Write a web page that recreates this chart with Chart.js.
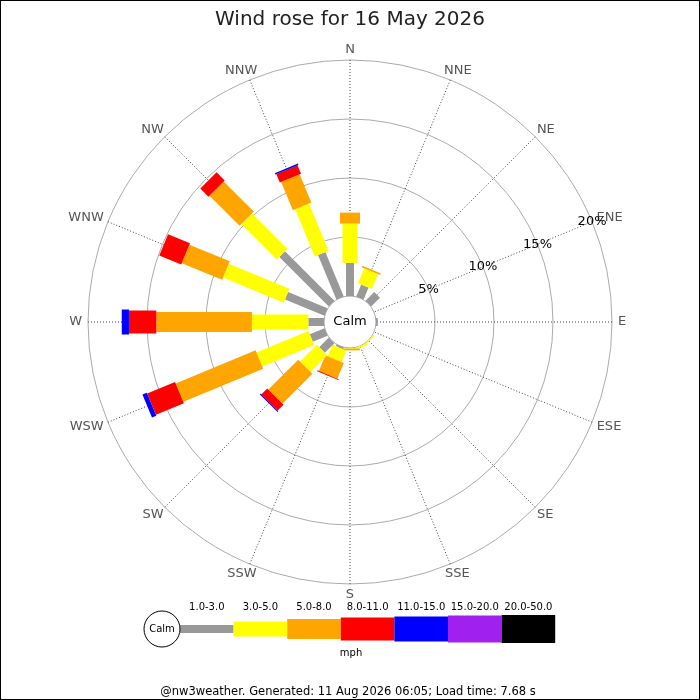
<!DOCTYPE html>
<html><head><meta charset="utf-8">
<style>html,body{margin:0;padding:0;background:#fff}canvas{display:block}</style>
<script src="https://cdn.jsdelivr.net/npm/chart.js@4"></script>
</head><body>
<canvas id="c" width="700" height="700"></canvas>
<script>
const titleText = 'Wind rose for 16 May 2026';
const footerText = '@nw3weather. Generated: 11 Aug 2026 06:05; Load time: 7.68 s';
const calmText = 'Calm';
const unitText = 'mph';
const directions = ['N','NNE','NE','ENE','E','ESE','SE','SSE','S','SSW','SW','WSW','W','WNW','NW','NNW'];
const bandLabels = ['1.0-3.0','3.0-5.0','5.0-8.0','8.0-11.0','11.0-15.0','15.0-20.0','20.0-50.0'];
// percentage of time per direction, for each speed band
const gray   = [2.81,1.10,1.05,0,0.15,0,0,0,0,0.15,1.15,1.35,1.33,3.62,5.93,4.08];
const yellow = [3.33,1.37,0,0,0,0,0.10,0.15,0.05,1.05,2.01,4.76,4.78,5.56,4.25,4.32];
const orange = [0.93,0.13,0,0,0,0,0,0,0.15,1.44,3.58,7.33,8.10,3.70,3.61,2.60];
const red    = [0,0,0,0,0,0,0,0,0,0.08,0.70,2.56,2.32,2.01,0.97,0.77];
const blue   = [0,0,0,0,0,0,0,0,0,0,0.10,0.40,0.61,0,0,0.12];
const purple = [0,0,0,0,0,0,0,0,0,0,0,0,0,0,0,0];
const black  = [0,0,0,0,0,0,0,0,0,0,0,0,0,0,0,0];
const tickValues = [5,10,15,20];
const tickLabels = ['5%','10%','15%','20%'];

const bandColors = ['#999999','#ffff00','#ffa500','#ff0000','#0000ff','#a020f0','#000000'];
const bandWidths = [8,15,20,23,25,27,28];
const FONT = 'DejaVu Sans';

const bands = [gray,yellow,orange,red,blue,purple,black];
const cumulative = [];
let run = directions.map(() => 0);
bands.forEach(b => { run = run.map((v,i) => v + b[i]); cumulative.push(run.slice()); });

const datasets = cumulative.map((d,k) => ({
  label: bandLabels[k], data: d, showLine: false, borderWidth: 0, fill: false,
  pointRadius: 0, pointHoverRadius: 0, pointHitRadius: 0,
  borderColor: bandColors[k], backgroundColor: 'rgba(0,0,0,0)'
}));

const rosePlugin = {
  id: 'rose',
  afterDatasetsDraw(chart) {
    const ctx = chart.ctx, s = chart.scales.r;
    const c0 = s.getDistanceFromCenterForValue(0);
    ctx.save();
    // direction labels
    ctx.font = '13px "' + FONT + '"'; ctx.fillStyle = '#555';
    ctx.textAlign = 'center'; ctx.textBaseline = 'middle';
    chart.data.labels.forEach((lab,i) => {
      const a = s.getIndexAngle(i);
      const p = s.getPointPosition(i, s.drawingArea + 6);
      const w = ctx.measureText(lab).width;
      ctx.fillText(lab, p.x + Math.sin(a) * w / 2, p.y - Math.cos(a) * 4.5);
    });
    // calm circle
    ctx.beginPath(); ctx.arc(s.xCenter, s.yCenter, c0, 0, 2*Math.PI);
    ctx.fillStyle = '#fff'; ctx.fill(); ctx.strokeStyle = '#aaa'; ctx.lineWidth = 1; ctx.stroke();
    // bars
    ctx.lineCap = 'butt';
    directions.forEach((d,i) => {
      let start = s.getPointPositionForValue(i, 0);
      cumulative.forEach((cum,k) => {
        const el = chart.getDatasetMeta(k).data[i];
        const prev = k === 0 ? 0 : cumulative[k-1][i];
        if (cum[i] > prev) {
          ctx.beginPath(); ctx.moveTo(start.x, start.y); ctx.lineTo(el.x, el.y);
          ctx.strokeStyle = bandColors[k]; ctx.lineWidth = bandWidths[k]; ctx.stroke();
          start = {x: el.x, y: el.y};
        }
      });
    });
    // calm text
    ctx.fillStyle = '#000'; ctx.font = '13px "' + FONT + '"';
    ctx.textAlign = 'center'; ctx.textBaseline = 'middle';
    ctx.fillText(calmText, s.xCenter, s.yCenter);
    // percentage labels along ENE
    const ene = directions.indexOf('ENE');
    tickValues.forEach((v,j) => {
      const p = s.getPointPositionForValue(ene, v);
      ctx.fillText(tickLabels[j], p.x, p.y);
    });
    ctx.restore();
  },
  afterDraw(chart) {
    const ctx = chart.ctx;
    ctx.save();
    // legend
    const lx0 = 180, lw = 53.6, ly = 629;
    ctx.font = '10px "' + FONT + '"'; ctx.textAlign = 'center'; ctx.textBaseline = 'middle';
    bands.forEach((b,k) => {
      ctx.fillStyle = bandColors[k];
      ctx.fillRect(lx0 + k*lw, ly - bandWidths[k]/2, lw, bandWidths[k]);
      ctx.fillStyle = '#000';
      ctx.fillText(bandLabels[k], lx0 + (k+0.5)*lw, 607);
    });
    ctx.beginPath(); ctx.arc(162, ly, 18, 0, 2*Math.PI);
    ctx.fillStyle = '#fff'; ctx.fill(); ctx.strokeStyle = '#000'; ctx.lineWidth = 1; ctx.stroke();
    ctx.fillStyle = '#000'; ctx.fillText(calmText, 162, ly);
    ctx.fillText(unitText, 351, 653);
    ctx.font = '11.5px "' + FONT + '"';
    ctx.fillText(footerText, 348, 692);
    // frame
    ctx.strokeStyle = '#000'; ctx.lineWidth = 1; ctx.strokeRect(0.5, 0.5, 699, 699);
    ctx.restore();
  }
};

new Chart(document.getElementById('c'), {
  type: 'radar',
  data: { labels: directions, datasets },
  options: {
    responsive: false, animation: false, devicePixelRatio: 1,
    layout: { padding: { top: 3, left: 88, right: 88, bottom: 116 } },
    plugins: {
      legend: { display: false }, tooltip: { enabled: false },
      title: { display: true, text: titleText, color: '#222',
        font: { family: FONT, size: 20, weight: 'normal' }, padding: { top: 5, bottom: 28 } }
    },
    scales: {
      r: {
        min: -2.2, max: 20,
        afterBuildTicks: sc => { sc.ticks = tickValues.map(v => ({ value: v })); },
        ticks: { display: false },
        grid: { circular: true, color: '#aaaaaa', lineWidth: 1 },
        angleLines: { color: '#444', lineWidth: 1, borderDash: [1,2] },
        pointLabels: { display: false }
      }
    }
  },
  plugins: [rosePlugin]
});
</script>
</body></html>
